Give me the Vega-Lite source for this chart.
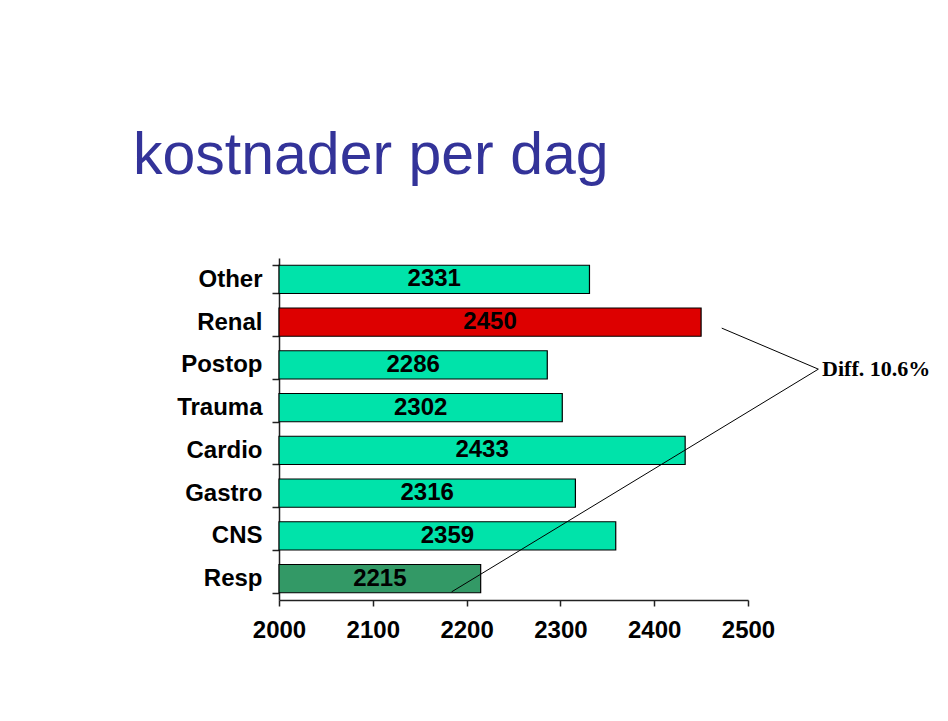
{
  "$schema": "https://vega.github.io/schema/vega-lite/v6.json",
  "width": 469,
  "height": 342,
  "autosize": {"type": "none"},
  "padding": {"left": 279, "top": 258, "right": 200, "bottom": 121},
  "background": "white",
  "title": {
    "text": "kostnader per dag",
    "anchor": "start",
    "frame": "group",
    "dx": -146,
    "offset": 60,
    "fontSize": 59,
    "font": "Liberation Sans",
    "fontWeight": "normal",
    "color": "#333399"
  },
  "config": {
    "view": {"stroke": null},
    "axis": {
      "labelFont": "Liberation Sans",
      "labelFontWeight": "bold",
      "labelFontSize": 24,
      "labelColor": "#000000",
      "domainColor": "#222222",
      "tickColor": "#222222",
      "domainWidth": 1.5,
      "tickWidth": 1.5,
      "grid": false,
      "title": null,
      "labelFlush": false,
      "labelOverlap": false
    }
  },
  "datasets": {
    "costs": [
      {"diagnosis": "Other", "cost": 2331, "group": "other"},
      {"diagnosis": "Renal", "cost": 2450, "group": "highest"},
      {"diagnosis": "Postop", "cost": 2286, "group": "other"},
      {"diagnosis": "Trauma", "cost": 2302, "group": "other"},
      {"diagnosis": "Cardio", "cost": 2433, "group": "other"},
      {"diagnosis": "Gastro", "cost": 2316, "group": "other"},
      {"diagnosis": "CNS", "cost": 2359, "group": "other"},
      {"diagnosis": "Resp", "cost": 2215, "group": "lowest"}
    ],
    "bracket": [
      {"step": 1, "cost": 2472, "level": 6.36},
      {"step": 2, "cost": 2575, "level": 5.4},
      {"step": 3, "cost": 2184, "level": 0.19}
    ],
    "note": [
      {"cost": 2579, "level": 5.4, "label": "Diff. 10.6%"}
    ]
  },
  "resolve": {"scale": {"x": "independent", "y": "independent"}},
  "layer": [
    {
      "data": {"name": "costs"},
      "mark": {"type": "bar", "stroke": "#000000", "strokeWidth": 1.2},
      "encoding": {
        "y": {
          "field": "diagnosis",
          "type": "nominal",
          "sort": ["Other", "Renal", "Postop", "Trauma", "Cardio", "Gastro", "CNS", "Resp"],
          "scale": {"paddingInner": 0.34, "paddingOuter": 0.17},
          "axis": {"tickBand": "extent", "tickSize": 7, "labelPadding": 10, "domain": true}
        },
        "x": {
          "field": "cost",
          "type": "quantitative",
          "scale": {"domain": [2000, 2500], "zero": false, "nice": false},
          "axis": {"values": [2000, 2100, 2200, 2300, 2400, 2500], "format": "d", "tickSize": 6, "labelPadding": 12}
        },
        "x2": {"datum": 2000},
        "color": {
          "field": "group",
          "type": "nominal",
          "scale": {"domain": ["other", "highest", "lowest"], "range": ["#00E3AA", "#DD0000", "#339966"]},
          "legend": null
        }
      }
    },
    {
      "data": {"name": "costs"},
      "mark": {"type": "text", "font": "Liberation Sans", "fontWeight": "bold", "fontSize": 24, "color": "#000000", "align": "center", "baseline": "middle"},
      "encoding": {
        "y": {
          "field": "diagnosis",
          "type": "nominal",
          "sort": ["Other", "Renal", "Postop", "Trauma", "Cardio", "Gastro", "CNS", "Resp"],
          "scale": {"paddingInner": 0.34, "paddingOuter": 0.17},
          "axis": null
        },
        "x": {
          "field": "cost",
          "type": "quantitative",
          "scale": {"domain": [2000, 3000], "zero": false, "nice": false},
          "axis": null
        },
        "text": {"field": "cost", "type": "quantitative", "format": "d"}
      }
    },
    {
      "data": {"name": "bracket"},
      "mark": {"type": "line", "color": "#000000", "strokeWidth": 1, "clip": false},
      "encoding": {
        "x": {"field": "cost", "type": "quantitative", "scale": {"domain": [2000, 2500], "zero": false, "nice": false}, "axis": null},
        "y": {"field": "level", "type": "quantitative", "scale": {"domain": [0, 8], "zero": false, "nice": false}, "axis": null},
        "order": {"field": "step", "type": "quantitative"}
      }
    },
    {
      "data": {"name": "note"},
      "mark": {"type": "text", "font": "Liberation Serif", "fontWeight": "bold", "fontSize": 22, "color": "#000000", "align": "left", "baseline": "middle", "clip": false},
      "encoding": {
        "x": {"field": "cost", "type": "quantitative", "scale": {"domain": [2000, 2500], "zero": false, "nice": false}, "axis": null},
        "y": {"field": "level", "type": "quantitative", "scale": {"domain": [0, 8], "zero": false, "nice": false}, "axis": null},
        "text": {"field": "label", "type": "nominal"}
      }
    }
  ]
}
